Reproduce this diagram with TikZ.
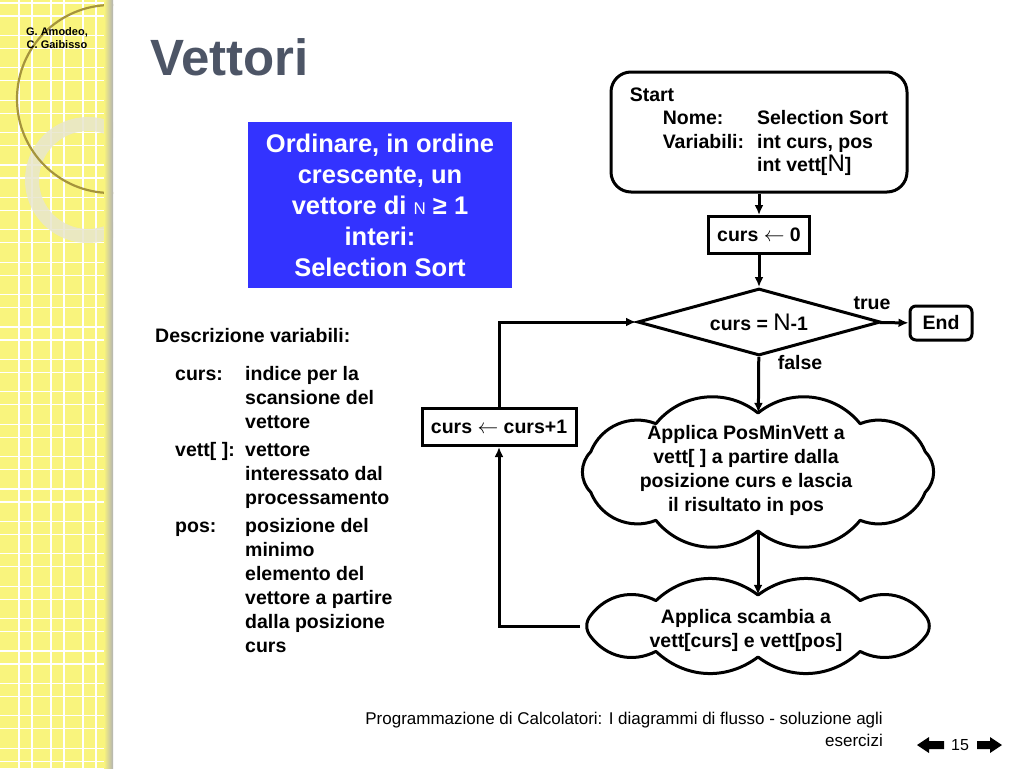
\documentclass[tikz,border=0pt]{standalone}
\usepackage{fontspec}
\setmainfont{Liberation Sans}
\usetikzlibrary{shapes.geometric,arrows.meta}

\definecolor{stripyellow}{RGB}{249,244,125}
\definecolor{ringgold}{RGB}{165,148,60}
\definecolor{ringpale}{RGB}{232,230,206}
\definecolor{taskblue}{RGB}{51,51,255}
\definecolor{titlegray}{RGB}{77,85,102}

\newcommand{\bigN}{{\fontsize{24}{24}\selectfont\mdseries N}}
\newcommand{\smallN}{{\fontsize{17}{17}\selectfont\mdseries N}}

\begin{document}
\begin{tikzpicture}[x=1pt,y=-1pt,
  font=\bfseries\fontsize{19.5}{23.5}\selectfont,
  flow/.style={line width=3pt,-{Latex[length=10pt,width=9pt]}},
  procbox/.style={draw,line width=3pt,minimum width=#1,minimum height=37pt,inner sep=0pt},
  startbox/.style={draw,line width=3pt,rounded corners=20pt,minimum width=296pt,minimum height=120pt,inner sep=0pt},
  endbox/.style={draw,line width=3pt,rounded corners=6pt,minimum width=62pt,minimum height=34pt,inner sep=0pt},
  testbox/.style={diamond,draw,line width=3pt,aspect=3.6,minimum width=243pt,minimum height=67pt,inner sep=0pt},
  cloudbox/.style={ellipse,minimum width=356pt,inner sep=0pt},
  puff/.style={line width=3pt,line join=round},
  cloudtext/.style={align=center,inner sep=0pt,font=\bfseries\fontsize{19.5}{24}\selectfont},
  taskbox/.style={fill=taskblue,text=white,minimum width=264pt,minimum height=166pt,align=center,
    inner sep=0pt,font=\bfseries\fontsize{25.5}{31}\selectfont},
  footer/.style={align=right,inner sep=0pt,font=\mdseries\fontsize{17}{22}\selectfont}
]
\useasboundingbox (0,0) rectangle (1024,768);

% Yellow strip with grid
\fill[stripyellow] (0,0) rectangle (113,768);
\foreach \gx in {19,51,83} {
    \draw[white,line width=1.2pt] (\gx,0) -- (\gx,768);
    \draw[white,line width=1.2pt] ({\gx+13},0) -- ({\gx+13},768);
}
\foreach \k in {0,...,23} {
    \draw[white,line width=1.2pt] (0,{3+32.4*\k}) -- (113,{3+32.4*\k});
    \draw[white,line width=1.2pt] (0,{16+32.4*\k}) -- (113,{16+32.4*\k});
}
\begin{scope}
    \clip (0,0) rectangle (113,768);
    \draw[ringpale,opacity=0.85,line width=14pt] (88,180) circle[radius=56pt];
    \draw[ringgold,line width=2.2pt] (111,99) circle[radius=94pt];
\end{scope}
\shade[left color=stripyellow,right color=black!30] (104,0) rectangle (113,768);

% Authors and title
\node[align=center,font=\bfseries\fontsize{11}{13}\selectfont] (authors) at (57,38) {G. Amodeo,\\C. Gaibisso};
\node[anchor=base west,inner sep=0pt,text=titlegray,font=\bfseries\fontsize{51}{51}\selectfont] (title) at (150,75) {Vettori};

% Task box
\node[taskbox] (task) at (380,205) {Ordinare, in ordine\\crescente, un\\vettore di \smallN{} ≥ 1\\interi:\\Selection Sort};

% Variable description
\node[anchor=base west,inner sep=0pt] (desc) at (155,342) {Descrizione variabili:};
\node[anchor=base west,inner sep=0pt,font=\bfseries\fontsize{19.5}{24}\selectfont] (vars) at (175,380) {%
\begin{tabular}[t]{@{}p{70pt}@{}l@{}}
curs: & indice per la\\
      & scansione del\\
      & vettore\\[4pt]
vett[ ]: & vettore\\
      & interessato dal\\
      & processamento\\[4pt]
pos:  & posizione del\\
      & minimo\\
      & elemento del\\
      & vettore a partire\\
      & dalla posizione\\
      & curs
\end{tabular}};

% Flowchart
\node[startbox] (start) at (759,132) {%
\begin{tabular}{@{}l@{}l@{\hspace{13pt}}l@{}}
\multicolumn{3}{@{}l@{}}{Start}\\
\hspace*{33pt} & Nome: & Selection Sort\\
 & Variabili: & int curs, pos\\
 & & int vett[\bigN]
\end{tabular}};
\node[procbox=101pt] (init) at (759,235) {curs $\leftarrow$ 0};
\node[testbox] (test) at (759,322) {curs = \bigN-1};
\node[endbox] (stop) at (941,323) {End};
\node (truelabel) at (872,303) {true};
\node (falselabel) at (800,363) {false};
\node[cloudbox,minimum height=118pt] (minvett) at (758,472) {};
\node[cloudtext] (minvetttext) at (746,470) {Applica PosMinVett a\\vett[ ] a partire dalla\\posizione curs e lascia\\il risultato in pos};
\node[cloudbox,minimum height=62pt] (swap) at (758,626) {};
\node[cloudtext] (swaptext) at (746,630) {Applica scambia a\\vett[curs] e vett[pos]};
\node[procbox=154pt] (inc) at (499,427) {curs $\leftarrow$ curs+1};

% Cloud outlines
\draw[puff] ([shift={({178*cos(20)},{-59*sin(20)})}]minvett.center)
    \foreach \t in {55,90,125,160,200,235,270,305,340,380} {
        to[bend right=45] ([shift={({178*cos(\t)},{-59*sin(\t)})}]minvett.center)
    };
\draw[puff] ([shift={({178*cos(20)},{-31*sin(20)})}]swap.center)
    \foreach \t in {55,90,125,160,200,235,270,305,340,380} {
        to[bend right=40] ([shift={({178*cos(\t)},{-31*sin(\t)})}]swap.center)
    };

\draw[flow] (start) -- (init);
\draw[flow] (init) -- (test);
\draw[flow] (test) -- (stop);
\draw[flow] (test) -- (minvett);
\draw[flow] (minvett) -- (swap);
\draw[flow] (swap.west) -| (inc);
\draw[flow] (inc) |- (test);

% Footer
\node[footer,anchor=north east] (foot) at (883,712) {Programmazione di Calcolatori: I diagrammi di flusso - soluzione agli\\esercizi};
\node[font=\mdseries\fontsize{16}{16}\selectfont] (pagenum) at (960,745) {15};
\fill (917,745) -- (929,737) -- (929,741) -- (944,741) -- (944,749) -- (929,749) -- (929,753) -- cycle;
\fill (1002,745) -- (990,737) -- (990,741) -- (977,741) -- (977,749) -- (990,749) -- (990,753) -- cycle;

\end{tikzpicture}
\end{document}
